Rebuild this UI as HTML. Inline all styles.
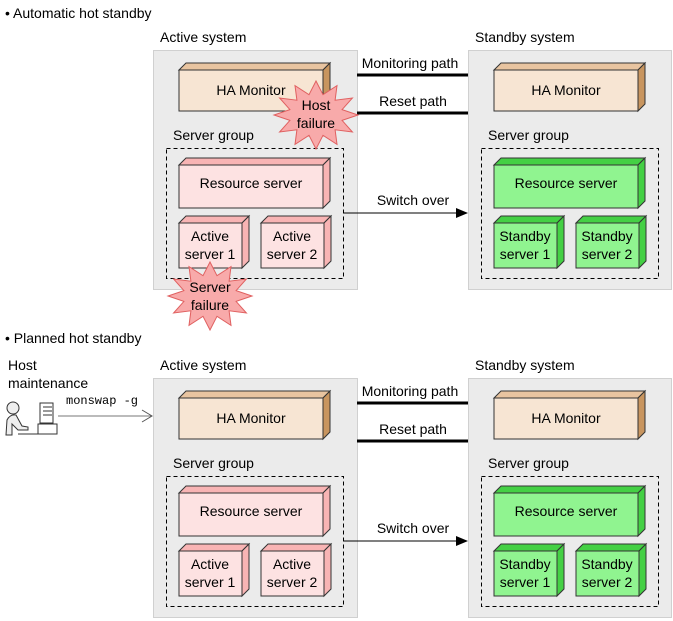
<!DOCTYPE html>
<html><head><meta charset="utf-8"><style>
html,body{margin:0;padding:0;background:#fff;}
svg{display:block;font-family:"Liberation Sans",Arial,sans-serif;font-size:14px;}
</style></head><body>
<svg width="673" height="621" viewBox="0 0 673 621" xmlns="http://www.w3.org/2000/svg">
<defs>
<g id="sec">
  <!-- gray systems -->
  <rect x="153.5" y="50.5" width="204" height="239" fill="#ebebeb" stroke="#d0d0d0"/>
  <rect x="468.5" y="50.5" width="203" height="239" fill="#ebebeb" stroke="#d0d0d0"/>
  <text x="160" y="42" fill="#000">Active system</text>
  <text x="475" y="42" fill="#000">Standby system</text>
  <!-- HA Monitors -->
  <g stroke="#333" stroke-width="1">
    <polygon points="179,70 186,63 330,63 323,70" fill="#e8c4a0"/>
    <polygon points="323,70 330,63 330,104 323,111" fill="#c8955f"/>
    <rect x="179" y="70" width="144" height="41" fill="#f7e5d3"/>
    <polygon points="494,70 501,63 645,63 638,70" fill="#e8c4a0"/>
    <polygon points="638,70 645,63 645,104 638,111" fill="#c8955f"/>
    <rect x="494" y="70" width="144" height="41" fill="#f7e5d3"/>
  </g>
  <text x="251" y="95" text-anchor="middle">HA Monitor</text>
  <text x="566" y="95" text-anchor="middle">HA Monitor</text>
  <!-- server groups -->
  <text x="173" y="140">Server group</text>
  <text x="488" y="140">Server group</text>
  <rect x="166.5" y="148.5" width="177" height="130" fill="none" stroke="#000" stroke-dasharray="4,3"/>
  <rect x="481.5" y="148.5" width="177" height="130" fill="none" stroke="#000" stroke-dasharray="4,3"/>
  <!-- pink boxes -->
  <g stroke="#333" stroke-width="1">
    <polygon points="179,165 186,158 330,158 323,165" fill="#f8b4b4"/>
    <polygon points="323,165 330,158 330,201 323,208" fill="#f8b4b4"/>
    <rect x="179" y="165" width="144" height="43" fill="#fde2e2"/>
    <polygon points="179,223 186,216 249,216 242,223" fill="#f8b4b4"/>
    <polygon points="242,223 249,216 249,261 242,268" fill="#f8b4b4"/>
    <rect x="179" y="223" width="63" height="45" fill="#fde2e2"/>
    <polygon points="261,223 268,216 331,216 324,223" fill="#f8b4b4"/>
    <polygon points="324,223 331,216 331,261 324,268" fill="#f8b4b4"/>
    <rect x="261" y="223" width="63" height="45" fill="#fde2e2"/>
    <!-- green boxes -->
    <polygon points="494,165 501,158 645,158 638,165" fill="#44d044"/>
    <polygon points="638,165 645,158 645,201 638,208" fill="#44d044"/>
    <rect x="494" y="165" width="144" height="43" fill="#90f490"/>
    <polygon points="494,223 501,216 564,216 557,223" fill="#44d044"/>
    <polygon points="557,223 564,216 564,261 557,268" fill="#44d044"/>
    <rect x="494" y="223" width="63" height="45" fill="#90f490"/>
    <polygon points="576,223 583,216 646,216 639,223" fill="#44d044"/>
    <polygon points="639,223 646,216 646,261 639,268" fill="#44d044"/>
    <rect x="576" y="223" width="63" height="45" fill="#90f490"/>
  </g>
  <text x="251" y="188" text-anchor="middle">Resource server</text>
  <text x="210" y="241" text-anchor="middle">Active</text>
  <text x="210" y="259" text-anchor="middle">server 1</text>
  <text x="292" y="241" text-anchor="middle">Active</text>
  <text x="292" y="259" text-anchor="middle">server 2</text>
  <text x="566" y="188" text-anchor="middle">Resource server</text>
  <text x="525" y="241" text-anchor="middle">Standby</text>
  <text x="525" y="259" text-anchor="middle">server 1</text>
  <text x="607" y="241" text-anchor="middle">Standby</text>
  <text x="607" y="259" text-anchor="middle">server 2</text>
  <!-- paths -->
  <line x1="357" y1="75" x2="468" y2="75" stroke="#000" stroke-width="3"/>
  <line x1="357" y1="113" x2="468" y2="113" stroke="#000" stroke-width="3"/>
  <text x="410" y="68" text-anchor="middle">Monitoring path</text>
  <text x="413" y="106" text-anchor="middle">Reset path</text>
  <line x1="343" y1="213" x2="456" y2="213" stroke="#000" stroke-width="1"/>
  <polygon points="456,208 468,213 456,218" fill="#000"/>
  <text x="413" y="205" text-anchor="middle">Switch over</text>
</g>
<polygon id="star" points="42,0 26.1,5.4 36.4,17 19.1,14.8 21,29.4 7,20.3 0,34 -7,20.3 -21,29.4 -19.1,14.8 -36.4,17 -26.1,5.4 -42,0 -26.1,-5.4 -36.4,-17 -19.1,-14.8 -21,-29.4 -7,-20.3 0,-34 7,-20.3 21,-29.4 19.1,-14.8 36.4,-17 26.1,-5.4" fill="#f8aaaa" stroke="#e06060" stroke-width="1"/>
</defs>

<text x="5" y="18">• Automatic hot standby</text>
<use href="#sec"/>
<use href="#star" transform="translate(316,115)"/>
<text x="316" y="110" text-anchor="middle">Host</text>
<text x="316" y="128" text-anchor="middle">failure</text>
<use href="#star" transform="translate(210,296)"/>
<text x="210" y="292" text-anchor="middle">Server</text>
<text x="210" y="310" text-anchor="middle">failure</text>

<text x="5" y="343">• Planned hot standby</text>
<use href="#sec" transform="translate(0,328)"/>
<text x="8" y="370">Host</text>
<text x="8" y="388">maintenance</text>
<text x="66" y="404" font-family="Liberation Mono,monospace" font-size="12">monswap -g</text>
<line x1="58" y1="416" x2="152" y2="416" stroke="#777" stroke-width="1"/>
<polyline points="142,410 152,416 142,422" fill="none" stroke="#555"/>
<!-- person + computer -->
<g stroke="#333" stroke-width="1" fill="#eee">
  <circle cx="13" cy="408" r="6"/>
  <path d="M7,420 Q10,414 16,415 L22,426 L28,427 L28,430 L18,430 L12,424 L12,435 L6,435 Z"/>
  <rect x="40" y="403" width="13" height="20" fill="#fff"/>
  <line x1="43" y1="407" x2="52" y2="407"/><line x1="43" y1="411" x2="52" y2="411"/><line x1="43" y1="415" x2="52" y2="415"/>
  <rect x="38" y="424" width="19" height="10" fill="#fff"/>
  <line x1="18" y1="434" x2="38" y2="434"/>
</g>
</svg>
</body></html>
